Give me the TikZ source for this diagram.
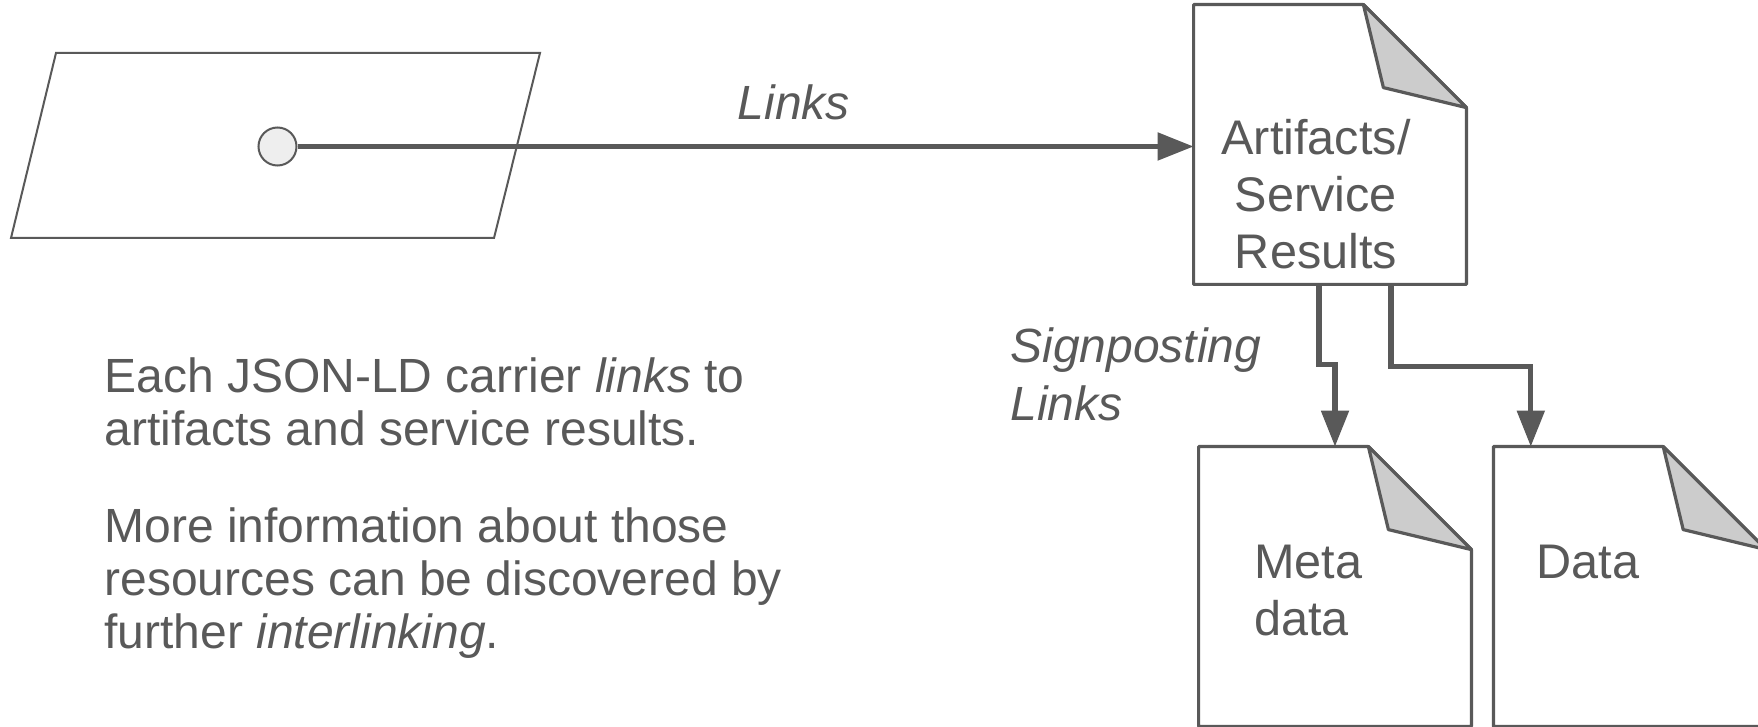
\documentclass[tikz,border=0pt]{standalone}
\usepackage{fontspec}
\setmainfont{Liberation Sans}
\usepackage{tikz}
\usetikzlibrary{arrows.meta, shapes.geometric, positioning}
\definecolor{lineGray}{HTML}{595959}
\definecolor{foldGray}{HTML}{CCCCCC}
\definecolor{dotFill}{HTML}{EEEEEE}
\tikzstyle{docNode} = [rectangle, minimum width=136pt, minimum height=139.5pt, inner sep=0pt]
\tikzstyle{docLine} = [draw=lineGray, line width=1.6pt, line join=round]
\tikzstyle{carrierLine} = [draw=lineGray, line width=1pt]
\tikzstyle{dotNode} = [circle, minimum size=19pt, inner sep=0pt, draw=lineGray, line width=1pt, fill=dotFill]
\tikzstyle{linkArrow} = [draw=lineGray, line width=2.6pt, -{Triangle[length=18pt, width=13.5pt]}]
\tikzstyle{bodyText} = [font=\fontsize{24pt}{26.5pt}\selectfont, text=lineGray, inner sep=0pt, align=left, anchor=north west]
\tikzstyle{docText} = [font=\fontsize{24.3pt}{28.5pt}\selectfont, text=lineGray, inner sep=0pt]
\tikzstyle{italText} = [font=\fontsize{24pt}{29pt}\selectfont\itshape, text=lineGray, inner sep=0pt]
\newcommand{\docOutline}[1]{%
  \draw [docLine, fill=white] (#1.north west) -- ([xshift=-51.5pt]#1.north east) -- ([yshift=-51.5pt]#1.north east) -- (#1.south east) -- (#1.south west) -- cycle;
  \draw [docLine, fill=foldGray] ([xshift=-51.5pt]#1.north east) -- ([xshift=-41.5pt, yshift=-41.5pt]#1.north east) -- ([yshift=-51.5pt]#1.north east) -- cycle;}

\begin{document}
\begin{tikzpicture}[x=0.5pt, y=-0.5pt]
    \useasboundingbox (0,0) rectangle (1758,727);
    \draw [carrierLine] (56,53) -- (540,53) -- (494,238) -- (11,238) -- cycle;
    \node (dot) [dotNode] at (277.5,146.5) {};
    \node (art) [docNode] at (1330,144.5) {};
    \node (meta) [docNode] at (1335,586.5) {};
    \node (data) [docNode, right=11pt of meta] {};
    \docOutline{art}
    \docOutline{meta}
    \docOutline{data}
    \node (artText) [docText, align=center, anchor=north] at (1316,119) {Artifacts/\\Service\\Results};
    \node (metaText) [docText, align=left, anchor=north west] at (1254,545) {Meta\\data};
    \node (dataText) [docText, anchor=north west] at (1536,545) {Data};
    \draw [linkArrow] (dot) -- (dot -| art.west) node (linksText) [italText, pos=0.554, above=12pt] {Links};
    \draw [linkArrow] ([xshift=-5.5pt]art.south) -- ++(0,-40pt) -| (meta.north);
    \draw [linkArrow] ([xshift=30.5pt]art.south) -- ++(0,-41pt) -| ([xshift=-49.5pt]data.north);
    \node (signText) [italText, align=left, anchor=north west] at (1010,327) {Signposting\\Links};
    \node (eachText) [bodyText] at (104,357) {Each JSON-LD carrier \textit{links} to\\artifacts and service results.};
    \node (moreText) [bodyText] at (104,507) {More information about those\\resources can be discovered by\\further \textit{interlinking}.};
\end{tikzpicture}
\end{document}
